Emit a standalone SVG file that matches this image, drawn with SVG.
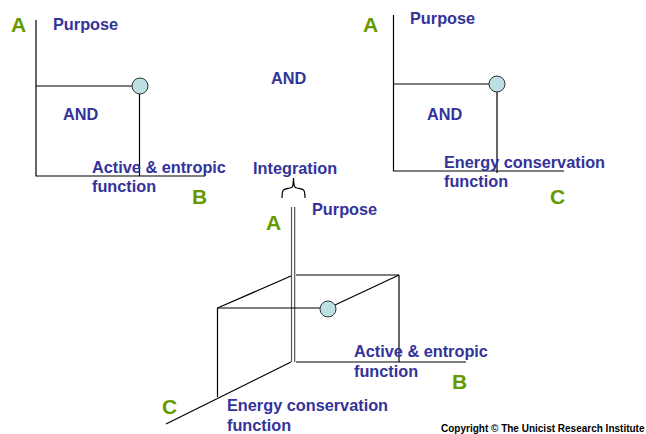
<svg xmlns="http://www.w3.org/2000/svg" width="646" height="434" viewBox="0 0 646 434">
<style>
.ln{stroke:#000;stroke-width:1.2;fill:none}
.gl{stroke:#555;stroke-width:1.2;fill:none}
.dot{fill:#BBE0E3;stroke:#333;stroke-width:1}
.t{font-family:"Liberation Sans",Arial,sans-serif;font-weight:bold;font-size:16.3px;fill:#333399}
.g{font-family:"Liberation Sans",Arial,sans-serif;font-weight:bold;font-size:21px;fill:#669900}
.c{font-family:"Liberation Sans",Arial,sans-serif;font-weight:bold;font-size:10px;fill:#000}
</style>
<rect width="646" height="434" fill="#fff"/>
<g id="connectors">
<polyline class="ln" points="36,20 36,176 205,176"/>
<line class="ln" x1="36" y1="86" x2="132" y2="86"/>
<line class="ln" x1="139.5" y1="94" x2="139.5" y2="176"/>
<polyline class="ln" points="393.5,15 393.5,171 564,171"/>
<line class="ln" x1="393.5" y1="84" x2="489" y2="84"/>
<line class="ln" x1="497" y1="92" x2="497" y2="173"/>
<path class="ln" d="M282,198 C282,188 284,189 290,188 C293,188 293,186 293.5,178 C294,186 294,188 297,188 C303,189 305,188 305,198" stroke-width="1"/>
<line class="gl" x1="291.5" y1="207" x2="291.5" y2="362"/>
<line class="gl" x1="294.7" y1="207" x2="294.7" y2="362"/>
<line class="ln" x1="296" y1="275" x2="399" y2="275"/>
<line class="ln" x1="217.5" y1="308" x2="291" y2="276"/>
<line class="ln" x1="217.5" y1="308" x2="320" y2="308"/>
<line class="ln" x1="335" y1="305" x2="399" y2="275"/>
<line class="ln" x1="399" y1="275" x2="399" y2="362"/>
<line class="ln" x1="217.5" y1="308" x2="217.5" y2="397"/>
<line class="ln" x1="296" y1="362" x2="466" y2="362"/>
<line class="ln" x1="291" y1="362" x2="166" y2="424"/>
</g>
<g id="node-tl">
<circle class="dot" cx="140" cy="86" r="8"/>
<text class="g" x="11" y="32">A</text>
<text class="t" x="53" y="30">Purpose</text>
<text class="t" x="63" y="120">AND</text>
<text class="t" x="92" y="173">Active &amp; entropic</text>
<text class="t" x="92" y="192">function</text>
<text class="g" x="192" y="204">B</text>
</g>
<g id="node-mid">
<text class="t" x="271" y="84">AND</text>
<text class="t" x="253" y="174">Integration</text>
</g>
<g id="node-tr">
<circle class="dot" cx="497" cy="84" r="8"/>
<text class="g" x="363" y="32">A</text>
<text class="t" x="410" y="24">Purpose</text>
<text class="t" x="427" y="120">AND</text>
<text class="t" x="444" y="168">Energy conservation</text>
<text class="t" x="444" y="187">function</text>
<text class="g" x="550" y="204">C</text>
</g>
<g id="node-3d">
<circle class="dot" cx="328" cy="309" r="8"/>
<text class="g" x="266" y="230">A</text>
<text class="t" x="312" y="215">Purpose</text>
<text class="t" x="354" y="357">Active &amp; entropic</text>
<text class="t" x="354" y="377">function</text>
<text class="g" x="452" y="389">B</text>
<text class="g" x="162" y="414">C</text>
<text class="t" x="227" y="411">Energy conservation</text>
<text class="t" x="227" y="431">function</text>
</g>
<text class="c" x="441" y="432">Copyright © The Unicist Research Institute</text>
</svg>
